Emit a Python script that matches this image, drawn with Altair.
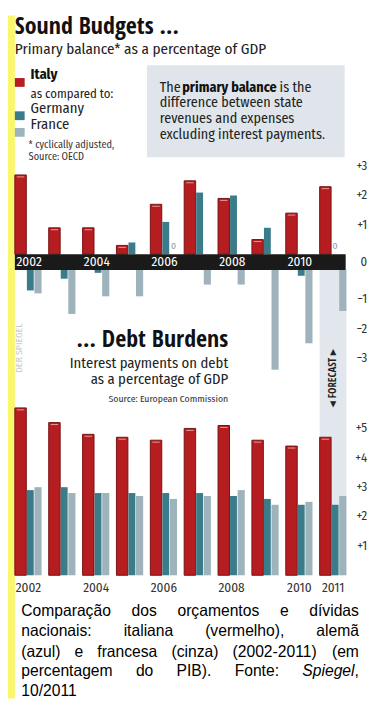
import altair as alt
import pandas as pd

# ---------------- data ----------------
years = [2002, 2003, 2004, 2005, 2006, 2007, 2008, 2009, 2010, 2011]
countries = ["Italy", "Germany", "France"]

primary_italy = [2.7, 0.9, 0.9, 0.3, 1.7, 2.5, 1.9, 0.5, 1.4, 2.3]
primary_germany = [-0.7, -0.3, -0.1, 0.4, 1.1, 2.1, 2.0, 0.9, -0.2, 0.0]
primary_france = [-0.8, -1.5, -0.9, -0.9, 0.0, -0.5, -0.5, -3.4, -2.5, -1.4]

interest_italy = [5.7, 5.2, 4.8, 4.7, 4.6, 5.0, 5.1, 4.6, 4.4, 4.7]
interest_germany = [2.9, 3.0, 2.8, 2.8, 2.8, 2.8, 2.7, 2.6, 2.4, 2.4]
interest_france = [3.0, 2.8, 2.8, 2.7, 2.6, 2.7, 2.9, 2.4, 2.5, 2.7]

top_ticks = [3, 2, 1, 0, -1, -2, -3]
bottom_ticks = [5, 4, 3, 2, 1]
top_year_labels = [2002, 2004, 2006, 2008, 2010]
bottom_year_labels = [2002, 2004, 2006, 2008, 2010, 2011]
forecast_years = [2011]

caption_lines = [
    "Comparação dos orçamentos e dívidas",
    "nacionais: italiana (vermelho), alemã",
    "(azul) e francesa (cinza) (2002-2011) (em",
    "percentagem do PIB). Fonte: *Spiegel*,",
    "10/2011",
]

# ---------------- style ----------------
OFF = 8
W, H = 377, 698
NARROW = "Fira Sans Condensed, Roboto, sans-serif"
HEAVY = "Open Sans Condensed, Fira Sans Condensed, sans-serif"
ARIAL = "Liberation Sans, Arial, sans-serif"
INK = "#1c1c1c"
fills = ["#b51d21", "#3b7c8b", "#9fb3bc"]


def px(v):
    return v - OFF


rows = []
for i, yr in enumerate(years):
    pbs = [primary_italy[i], primary_germany[i], primary_france[i]]
    ips = [interest_italy[i], interest_germany[i], interest_france[i]]
    for c, pb, ip in zip(countries, pbs, ips):
        rows.append({"year": yr, "country": c, "primary": pb, "interest": ip})
df = pd.DataFrame(rows)

xscale = alt.Scale(domain=[2002, 2012], range=[px(15), px(361)])
y_pos = alt.Scale(domain=[0, 3], range=[px(252), px(162)])
y_neg = alt.Scale(domain=[-4, 0], range=[px(388), px(268)])
y_bot = alt.Scale(domain=[0, 5], range=[px(580), px(430)])
color_scale = alt.Scale(domain=countries, range=fills)

base = alt.Chart(df).transform_calculate(
    xs="datum.year + (datum.country == 'Italy' ? 0 : datum.country == 'Germany' ? 0.355 : 0.578)",
    xe="datum.year + (datum.country == 'Italy' ? 0.338 : datum.country == 'Germany' ? 0.558 : 0.789)",
).transform_calculate(xm="(datum.xs + datum.xe) / 2")


def bars(filt, field, yscale):
    return base.transform_filter(filt).mark_bar(stroke="#7a1212", strokeWidth=1).encode(
        x=alt.X("xs:Q", scale=xscale, axis=None),
        x2="xe:Q",
        y=alt.Y(f"{field}:Q", scale=yscale, axis=None),
        y2=alt.datum(0),
        fill=alt.Fill("country:N", scale=color_scale, legend=None),
        strokeOpacity=alt.condition("datum.country == 'Italy'", alt.value(1), alt.value(0)),
    )


def shine(field, yscale):
    return base.transform_filter(f"datum.country == 'Italy' && datum.{field} > 0").mark_rule(
        color="#e79a9a", strokeWidth=1, yOffset=2, xOffset=2, x2Offset=-2
    ).encode(
        x=alt.X("xs:Q", scale=xscale, axis=None),
        x2="xe:Q",
        y=alt.Y(f"{field}:Q", scale=yscale, axis=None),
    )


def txt(text, x, y, size, font=NARROW, weight="normal", color=INK, align="left",
        baseline="alphabetic", angle=0, style="normal"):
    return alt.Chart(pd.DataFrame({"t": [text]})).mark_text(
        font=font, fontSize=size, fontWeight=weight, color=color, align=align,
        baseline=baseline, angle=angle, fontStyle=style,
    ).encode(x=alt.value(px(x)), y=alt.value(px(y)), text="t:N")


def box(x1, y1, x2, y2, color):
    return alt.Chart(pd.DataFrame({"a": [0]})).mark_rect(color=color).encode(
        x=alt.value(px(x1)), x2=alt.value(px(x2)), y=alt.value(px(y1)), y2=alt.value(px(y2))
    )


# forecast shade (through x scale)
forecast = alt.Chart(pd.DataFrame({"year": forecast_years})).transform_calculate(
    xe="datum.year + 0.79"
).mark_rect(color="#e1e7ec").encode(
    x=alt.X("year:Q", scale=xscale, axis=None), x2="xe:Q",
    y=alt.value(px(268)), y2=alt.value(px(580)),
)

# tick labels
ticks_top = alt.Chart(pd.DataFrame({"v": top_ticks})).transform_calculate(
    lab="datum.v > 0 ? '+' + datum.v : (datum.v < 0 ? '\u2212' + abs(datum.v) : '0')"
)
tick_style = dict(font=NARROW, fontSize=13, color="#333333", align="right", baseline="middle")
tick_pos = ticks_top.transform_filter("datum.v > 0").mark_text(**tick_style).encode(
    x=alt.value(px(375)), y=alt.Y("v:Q", scale=y_pos, axis=None), text="lab:N")
tick_zero = ticks_top.transform_filter("datum.v == 0").mark_text(dy=8, **tick_style).encode(
    x=alt.value(px(375)), y=alt.Y("v:Q", scale=y_pos, axis=None), text="lab:N")
tick_neg = ticks_top.transform_filter("datum.v < 0").mark_text(**tick_style).encode(
    x=alt.value(px(375)), y=alt.Y("v:Q", scale=y_neg, axis=None), text="lab:N")
tick_bot = alt.Chart(pd.DataFrame({"v": bottom_ticks})).transform_calculate(
    lab="'+' + datum.v").mark_text(**tick_style).encode(
    x=alt.value(px(375)), y=alt.Y("v:Q", scale=y_bot, axis=None), text="lab:N")

# zero-value labels
zero_labels = base.transform_filter("datum.primary == 0").mark_text(
    font=NARROW, fontSize=10, color="#8d9ca4", dy=-5, baseline="alphabetic"
).encode(x=alt.X("xm:Q", scale=xscale, axis=None),
         y=alt.Y("primary:Q", scale=y_pos, axis=None), text=alt.value("0"))

# year labels
year_top = alt.Chart(pd.DataFrame({"year": top_year_labels})).transform_calculate(
    lx="datum.year + 0.42").mark_text(
    font=NARROW, fontSize=13.5, color="white", baseline="middle", align="center"
).encode(x=alt.X("lx:Q", scale=xscale, axis=None), y=alt.value(px(260)), text="year:N")
year_bot = alt.Chart(pd.DataFrame({"year": bottom_year_labels})).transform_calculate(
    lx="datum.year + 0.40").mark_text(
    font=NARROW, fontSize=13.5, color="#333333", baseline="middle", align="center"
).encode(x=alt.X("lx:Q", scale=xscale, axis=None), y=alt.value(px(593)), text="year:N")

# legend squares (colours from the colour scale)
legend_df = pd.DataFrame({"country": countries, "ly": [64, 98, 115]})
legend_sq = alt.Chart(legend_df).transform_calculate(ly2="datum.ly + 9").mark_rect().encode(
    x=alt.value(px(15)), x2=alt.value(px(25)),
    y=alt.Y("ly:Q", scale=None), y2="ly2:Q",
    fill=alt.Fill("country:N", scale=color_scale, legend=None),
)

# caption (justified, Arial metrics)
AW = {' ': 278, '(': 333, ')': 333, ',': 278, '-': 333, '.': 278, '/': 278, ':': 278,
      'C': 722, 'P': 667, 'I': 278, 'B': 667, 'F': 611, 'S': 667,
      'a': 556, 'b': 556, 'c': 500, 'd': 556, 'e': 556, 'f': 278, 'g': 556, 'h': 556,
      'i': 222, 'j': 222, 'k': 500, 'l': 222, 'm': 833, 'n': 556, 'o': 556, 'p': 556,
      'q': 556, 'r': 333, 's': 500, 't': 278, 'u': 556, 'v': 500, 'w': 722, 'x': 500,
      'y': 500, 'z': 500, 'ç': 500, 'ã': 556, 'í': 278}
CAP_SIZE = 16
CAP_L, CAP_R = 21.5, 366.5
cap_base = [622, 642.5, 663, 683, 703]


def tw(s):
    return sum(AW.get(ch, 556) for ch in s) * CAP_SIZE / 1000


seg = []
for li, line in enumerate(caption_lines):
    words = line.split(" ")
    widths = [tw(w.replace("*", "")) for w in words]
    if li == len(caption_lines) - 1 or len(words) == 1:
        gap = tw(" ")
    else:
        gap = (CAP_R - CAP_L - sum(widths)) / (len(words) - 1)
    x = CAP_L
    for w, wd in zip(words, widths):
        sx = x
        for k, p in enumerate(w.split("*")):
            if p:
                seg.append({"t": p, "x": px(sx), "y": px(cap_base[li]),
                            "st": "italic" if k % 2 else "normal"})
            sx += tw(p)
        x += wd + gap
seg_df = pd.DataFrame(seg)


def cap_layer(style):
    return alt.Chart(seg_df).transform_filter(f"datum.st == '{style}'").mark_text(
        font=ARIAL, fontSize=CAP_SIZE, color="#000000", align="left", baseline="alphabetic",
        fontStyle=style,
    ).encode(x=alt.X("x:Q", scale=None), y=alt.Y("y:Q", scale=None), text="t:N")


layers = [
    box(8, 8, 15, 706, "#fbf76a"),
    box(150, 59, 352, 153, "#dfe5ea"),
    forecast,
    bars("datum.primary > 0", "primary", y_pos),
    bars("datum.primary < 0", "primary", y_neg),
    shine("primary", y_pos),
    box(15, 252, 353, 268, "#1a1a1a"),
    year_top,
    zero_labels,
    tick_pos, tick_zero, tick_neg, tick_bot,
    bars("true", "interest", y_bot),
    shine("interest", y_bot),
    year_bot,
    legend_sq,
    # headings
    txt("Sound Budgets ...", 15, 27, 24.5, font=HEAVY, weight="bold", color="#111111"),
    txt("Primary balance* as a percentage of GDP", 15, 47, 15.5, color="#222222"),
    txt("Italy", 31, 73, 15, weight="bold", color="#111111"),
    txt("as compared to:", 31, 92, 13, color="#222222"),
    txt("Germany", 31, 107.5, 15, color="#222222"),
    txt("France", 31, 124.5, 15, color="#222222"),
    txt("* cyclically adjusted,", 29, 143, 10.5, color="#333333"),
    txt("Source: OECD", 29, 156, 10.5, color="#333333"),
    # info box
    txt("The", 163, 86, 14.4, color="#222222"),
    txt("primary balance", 186, 86, 14.4, weight="bold", color="#111111"),
    txt("is the", 285.5, 86, 14.4, color="#222222"),
    txt("difference between state", 163, 102, 14.4, color="#222222"),
    txt("revenues and expenses", 163, 118, 14.4, color="#222222"),
    txt("excluding interest payments.", 163, 134, 14.4, color="#222222"),
    # second heading
    txt("... Debt Burdens", 233, 347, 24.5, font=HEAVY, weight="bold", color="#111111", align="right"),
    txt("Interest payments on debt", 233, 368, 15, color="#222222", align="right"),
    txt("as a percentage of GDP", 233, 385, 15, color="#222222", align="right"),
    txt("Source: European Commission", 233, 403, 10, color="#333333", align="right"),
    txt("\u25c2 FORECAST \u25b8", 340, 378.5, 11, font=HEAVY, weight="bold", color="#222222",
        align="center", baseline="middle", angle=270),
    txt("DER SPIEGEL", 19.5, 348, 10, color="#c9c9c9", align="center",
        baseline="middle", angle=270),
    cap_layer("normal"),
    cap_layer("italic"),
]

chart = alt.layer(*layers).resolve_scale(x="independent", y="independent").properties(
    width=W, height=H, autosize=alt.AutoSizeParams(type="none"), padding=0,
    background="white",
).configure_view(strokeWidth=0)

chart.save("out.html", embed_options={"renderer": "svg", "actions": False})
